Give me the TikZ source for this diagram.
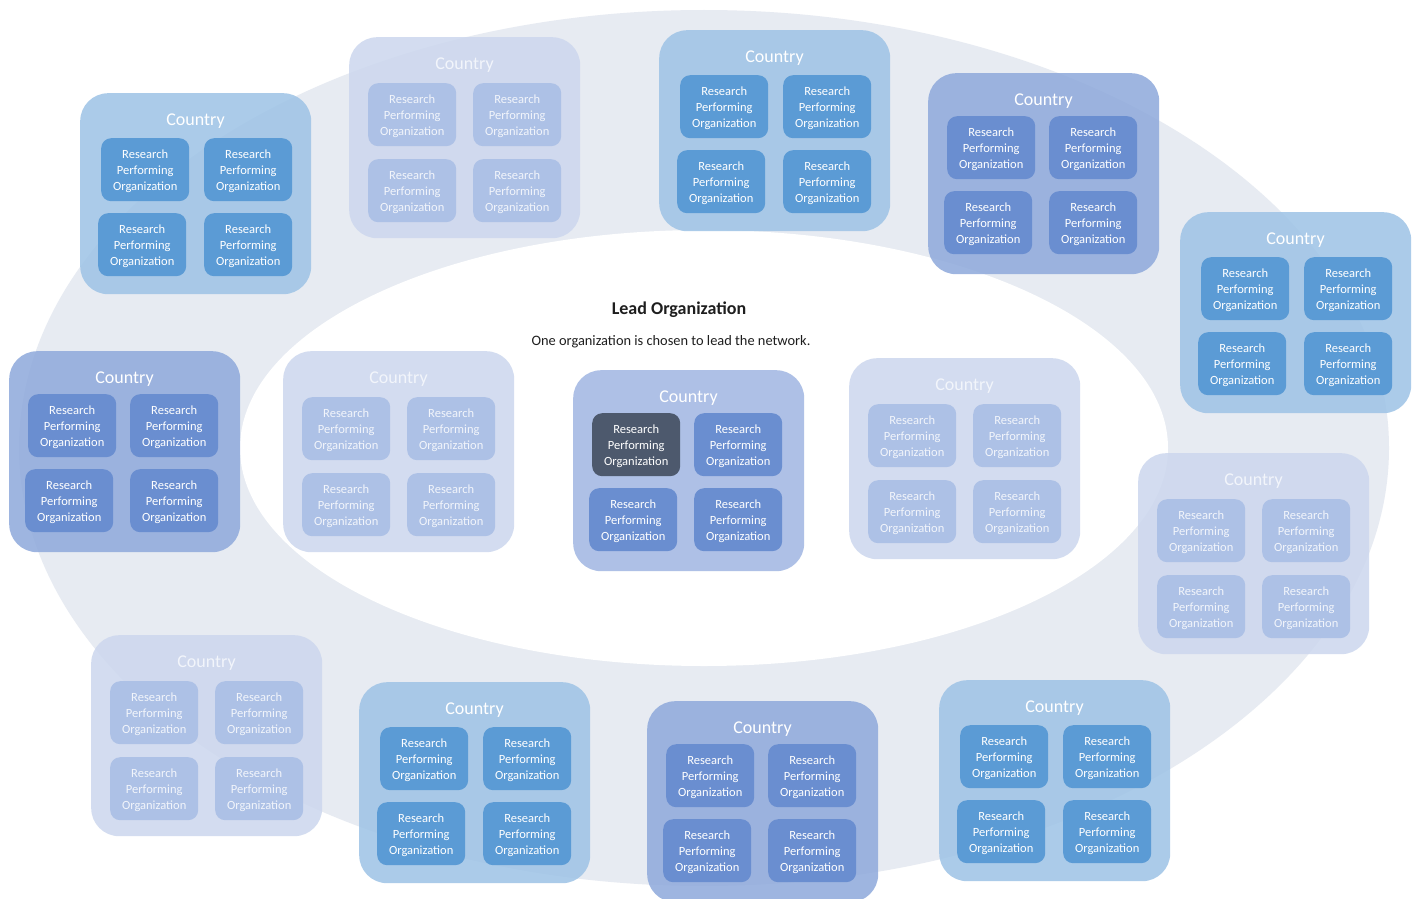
\documentclass[tikz,border=0pt]{standalone}
\usepackage{fontspec}
\setmainfont{Carlito}

% palette
\definecolor{ringgray}{HTML}{E7EBF2}
\definecolor{aout}{HTML}{9DC3E6}
\definecolor{ain}{HTML}{5B9BD5}
\definecolor{bout}{HTML}{8EA9DB}
\definecolor{bin}{HTML}{6A8ED0}
\definecolor{cout}{HTML}{CCD7EE}
\definecolor{cin}{HTML}{ADC1E6}
\definecolor{ctext}{HTML}{F2F5FB}
\definecolor{mout}{HTML}{A0B6E2}
\definecolor{lead}{HTML}{4D596D}
\definecolor{heading}{HTML}{1E1E1E}

% variants: outer fill, inner fill, text colour, first inner fill,
% inner columns (left top row, left bottom row, right), inner rows (top, bottom)
\def\variantA{\def\vout{aout}\def\vin{ain}\def\vtext{white}\def\vfirst{ain}%
  \def\xa{21}\def\xc{18}\def\xb{124}\def\ya{45}\def\yb{120}}
\def\variantB{\def\vout{bout}\def\vin{bin}\def\vtext{white}\def\vfirst{bin}%
  \def\xa{19}\def\xc{16}\def\xb{121}\def\ya{43}\def\yb{118}}
\def\variantC{\def\vout{cout}\def\vin{cin}\def\vtext{ctext}\def\vfirst{cin}%
  \def\xa{19}\def\xc{19}\def\xb{124}\def\ya{46}\def\yb{122}}
\def\variantM{\def\vout{mout}\def\vin{bin}\def\vtext{white}\def\vfirst{lead}%
  \def\xa{19}\def\xc{16}\def\xb{121}\def\ya{43}\def\yb{118}}

% one country block: name, left, top, variant letter
\newcommand\drawcountry[4]{%
  \csname variant#4\endcsname
  \begin{scope}[shift={(#2,#3)}]
    \node[country, fill=\vout] (#1) at (0,0) {};
    \node[clabel, text=\vtext] (#1t) at (115.5,28) {Country};
    \node[rpo, fill=\vfirst, text=\vtext] (#1a) at (\xa,\ya) {Research\\Performing\\Organization};
    \node[rpo, fill=\vin, text=\vtext] (#1b) at (\xb,\ya) {Research\\Performing\\Organization};
    \node[rpo, fill=\vin, text=\vtext] (#1c) at (\xc,\yb) {Research\\Performing\\Organization};
    \node[rpo, fill=\vin, text=\vtext] (#1d) at (\xb,\yb) {Research\\Performing\\Organization};
  \end{scope}}

\begin{document}
\begin{tikzpicture}[x=1pt,y=-1pt,
  country/.style={rounded corners=28pt, minimum width=231pt, minimum height=201pt,
    anchor=north west, inner sep=0pt, fill opacity=0.85, draw=none},
  clabel/.style={inner sep=0pt, font=\fontsize{18}{20}\selectfont},
  rpo/.style={rounded corners=10pt, minimum width=88pt, minimum height=63pt,
    text width=88pt, anchor=north west, inner sep=0pt, align=center,
    font=\fontsize{12.5}{16}\selectfont,
    execute at begin node={\rule{0pt}{12pt}}},
]
\useasboundingbox (0,0) rectangle (1416,899);
\fill[white] (0,0) rectangle (1416,899);

% network ring
\fill[ringgray] (704,448) ellipse [x radius=685, y radius=438];
\fill[white] (704,448) ellipse [x radius=464, y radius=218];

% caption
\node[inner sep=0pt, text=heading, font=\bfseries\fontsize{18}{20}\selectfont] (title) at (679,310) {Lead Organization};
\node[inner sep=0pt, text=heading, font=\fontsize{14.4}{16}\selectfont] (subtitle) at (671,342) {One organization is chosen to lead the network.};

% countries
\drawcountry{k1}{80}{93}{A}
\drawcountry{k2}{349}{37}{C}
\drawcountry{k3}{659}{30}{A}
\drawcountry{k4}{928}{73}{B}
\drawcountry{k5}{1180}{212}{A}
\drawcountry{k6}{9}{351}{B}
\drawcountry{k7}{283}{351}{C}
\drawcountry{k8}{573}{370}{M}
\drawcountry{k9}{849}{358}{C}
\drawcountry{k10}{1138}{453}{C}
\drawcountry{k11}{91}{635}{C}
\drawcountry{k12}{359}{682}{A}
\drawcountry{k13}{647}{701}{B}
\drawcountry{k14}{939}{680}{A}
\end{tikzpicture}
\end{document}
